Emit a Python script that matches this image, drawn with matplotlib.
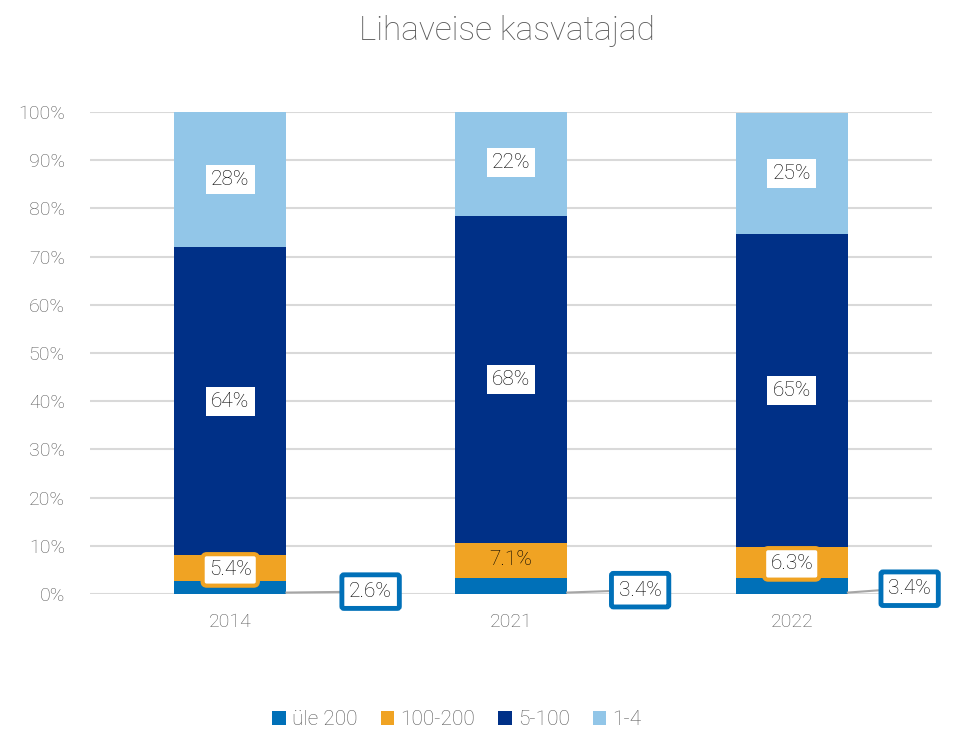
import matplotlib
matplotlib.use('Agg')
import matplotlib.pyplot as plt
import numpy as np

plt.rcParams['font.family'] = ['Roboto', 'DejaVu Sans']
plt.rcParams['font.weight'] = 'light'

years = ['2014', '2021', '2022']
series_names = ['üle 200', '100-200', '5-100', '1-4']
yle_200 = [2.6, 3.4, 3.4]
s100_200 = [5.4, 7.1, 6.3]
s5_100 = [64, 68, 65]
s1_4 = [28, 22, 25]
label_fmt = ['{:.1f}%', '{:.1f}%', '{:.0f}%', '{:.0f}%']

colors = ['#0070B8', '#F0A323', '#003087', '#92C6E8']
grey = '#595959'

fig = plt.figure(figsize=(9.56, 7.32), dpi=100)
ax = fig.add_axes([0.094, 0.1885, 0.881, 0.6585])

x = np.arange(len(years))
width = 0.40
bottom = np.zeros(len(years))
all_series = [yle_200, s100_200, s5_100, s1_4]
bars = []
for vals, col, name in zip(all_series, colors, series_names):
    v = np.array(vals) / 100
    ax.bar(x, v, width, bottom=bottom, color=col, label=name, zorder=3)
    bars.append((v, bottom.copy()))
    bottom = bottom + v

# labels for 5-100 and 1-4: white box, no border
for si in (2, 3):
    v, b0 = bars[si]
    for i in range(len(years)):
        ax.text(x[i], b0[i] + v[i] / 2, label_fmt[si].format(all_series[si][i]),
                ha='center', va='center', fontsize=15, color='black', zorder=5,
                bbox=dict(boxstyle='square,pad=0.25', fc='white', ec='none'))

# labels for 100-200
v, b0 = bars[1]
for i in range(len(years)):
    txt = label_fmt[1].format(all_series[1][i])
    if years[i] == '2021':
        ax.text(x[i], b0[i] + v[i] / 2 + 0.003, txt, ha='center', va='center',
                fontsize=15, color='black', zorder=5)
    else:
        ax.text(x[i], b0[i] + v[i] / 2 - 0.003, txt, ha='center', va='center',
                fontsize=15, color='black', zorder=5,
                bbox=dict(boxstyle='round,pad=0.3,rounding_size=0.2', fc='white',
                          ec=colors[1], lw=3))

# labels for üle 200: outside with leader line
v, b0 = bars[0]
label_off = [(0.50, 0.005), (0.46, 0.008), (0.42, 0.011)]
for i in range(len(years)):
    tx, ty = x[i] + label_off[i][0], label_off[i][1]
    ax.plot([x[i] + width / 2, tx - 0.07, tx], [0.003, 0.003 + (ty - 0.003) * 0.8, ty],
            color='#A6A6A6', lw=1.5, zorder=4, clip_on=False)
    ax.text(tx, ty, label_fmt[0].format(all_series[0][i]), ha='center', va='center',
            fontsize=15, color='black', zorder=6,
            bbox=dict(boxstyle='round,pad=0.35,rounding_size=0.1', fc='white',
                      ec=colors[0], lw=3.5))

ax.set_xlim(-0.5, 2.5)
ax.set_ylim(0, 1)
ax.set_yticks(np.arange(0, 1.01, 0.1))
ax.set_yticklabels([f'{int(t * 100)}%' for t in np.arange(0, 1.01, 0.1)])
ax.set_xticks(x)
ax.set_xticklabels(years)
ax.tick_params(axis='both', length=0, labelsize=14, labelcolor=grey)
ax.tick_params(axis='x', pad=14)
ax.tick_params(axis='y', pad=18)
ax.yaxis.grid(True, color='#D9D9D9', lw=1.5, zorder=0)
ax.set_axisbelow(True)
for sp in ax.spines.values():
    sp.set_visible(False)

fig.suptitle('Lihaveise kasvatajad', x=0.53, y=0.98, fontsize=24, color=grey,
             fontweight='light')

leg = fig.legend(loc='lower center', bbox_to_anchor=(0.478, -0.022), ncol=4, frameon=False,
                 fontsize=15, handlelength=0.65, handleheight=0.65, handletextpad=0.3,
                 columnspacing=1.1)
for t in leg.get_texts():
    t.set_color(grey)

fig.savefig('out.png', dpi=100)
